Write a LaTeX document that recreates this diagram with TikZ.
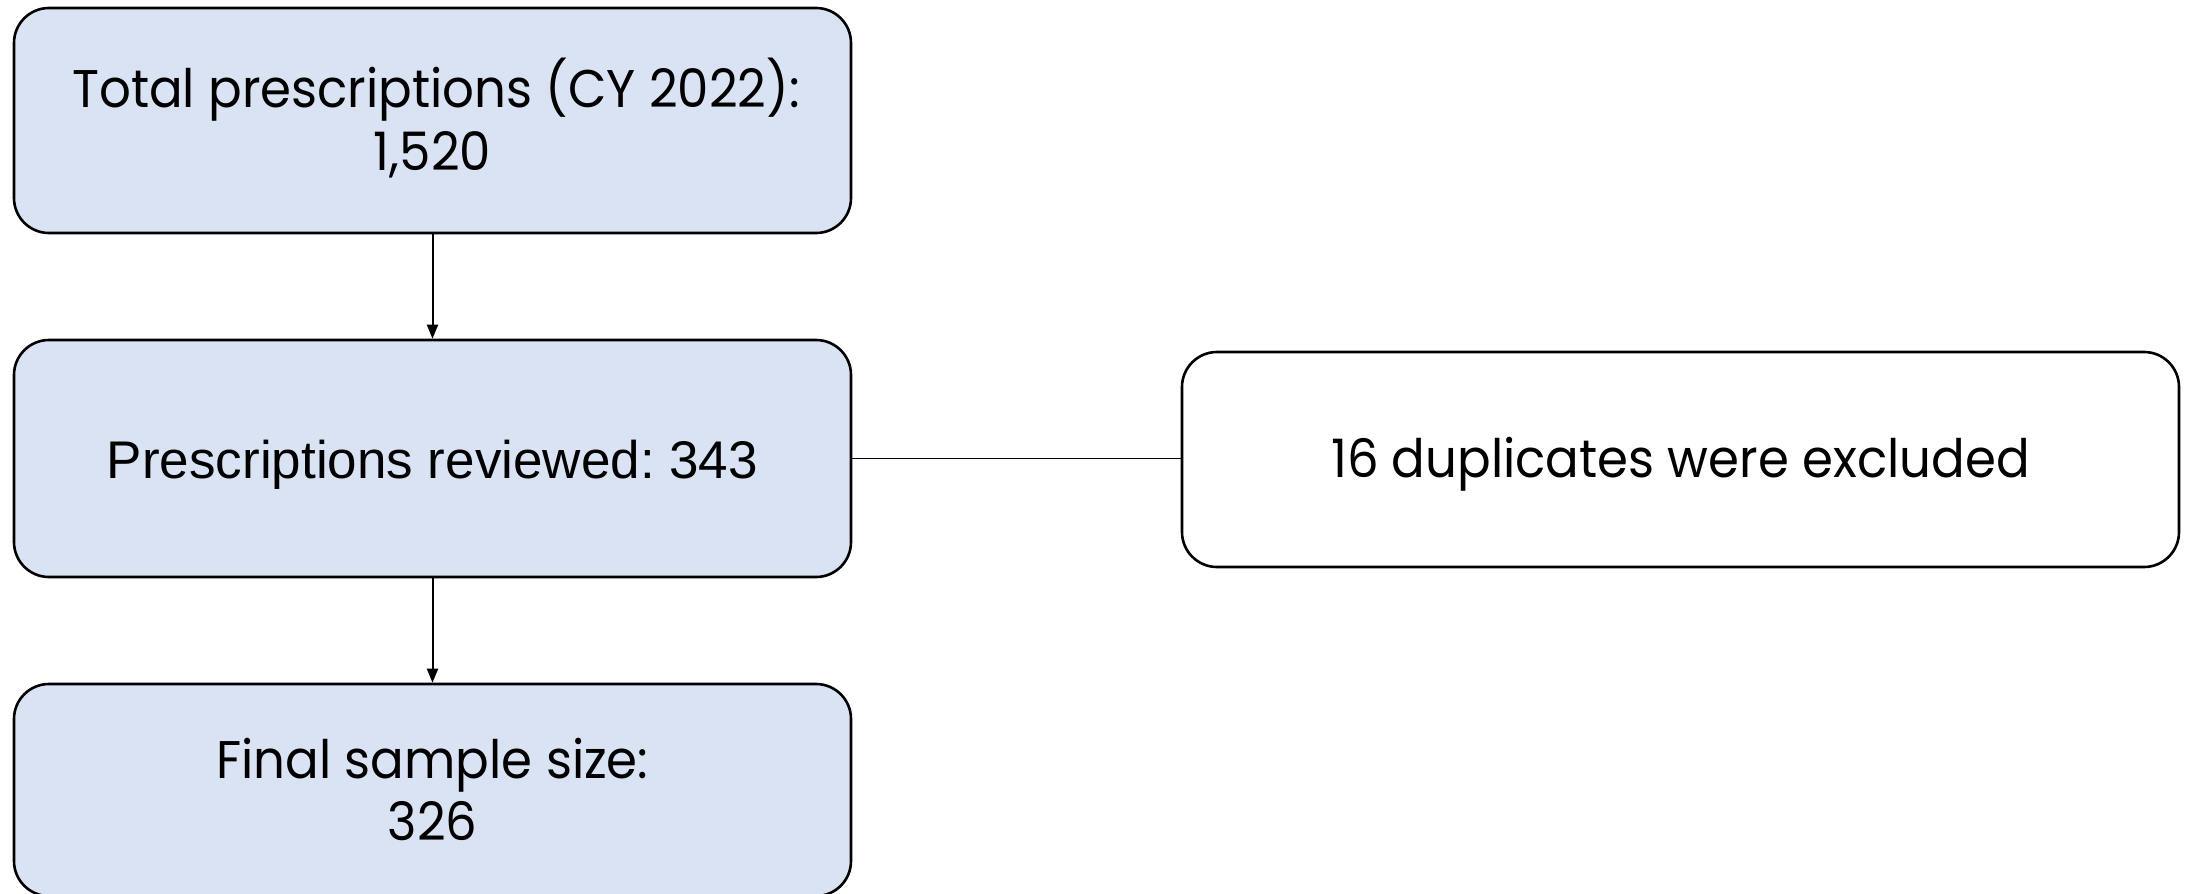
\documentclass[tikz,border=0pt]{standalone}
\usepackage{fontspec}
\setmainfont{Liberation Sans}
\newfontfamily\geo[FakeStretch=0.94]{Poppins}
\usetikzlibrary{arrows.meta}
\definecolor{boxblue}{HTML}{DAE3F3}
\frenchspacing
\tikzset{
  box/.style={draw=black, line width=1.3pt, rounded corners=17.5pt, inner sep=0pt, minimum width=418.5pt},
  bluebox/.style={box, fill=boxblue},
  whitebox/.style={box, fill=white},
  geotext/.style={anchor=base, inner sep=0pt, font=\geo\fontsize{26.5pt}{32pt}\selectfont},
  arialtext/.style={anchor=base, inner sep=0pt, font=\fontsize{26.5pt}{32pt}\selectfont},
  arrowline/.style={line width=1pt, -{Triangle[width=5.5pt,length=7pt]}},
  plainline/.style={line width=0.7pt}
}
\begin{document}
\begin{tikzpicture}[x=0.5pt,y=-0.5pt]
\useasboundingbox (0,0) rectangle (2185,894);
\fill[white] (0,0) rectangle (2185,894);
\node[bluebox, minimum height=112.5pt] (b1) at (432.5,120.5) {};
\node[bluebox, minimum height=118.5pt] (b2) at (432.5,458.5) {};
\node[bluebox, minimum height=106pt] (b3) at (432.5,790) {};
\node[whitebox, minimum width=498.5pt, minimum height=107.5pt] (b4) at (1680.5,459.5) {};
\node[geotext] (t1a) at (436,107) {Total prescriptions (CY 2022):};
\node[geotext] (t1b) at (432.5,170) {1,520};
\node[arialtext] (t2) at (432.5,478) {Prescriptions reviewed: 343};
\node[geotext] (t3a) at (432.5,778) {Final sample size:};
\node[geotext] (t3b) at (432.5,840) {326};
\node[geotext] (t4) at (1680.5,477) {16 duplicates were excluded};
\draw[arrowline] (b1.south) -- (b2.north);
\draw[arrowline] (b2.south) -- (b3.north);
\draw[plainline] (b2.east) -- (b4.west |- b2.east);
\end{tikzpicture}
\end{document}
